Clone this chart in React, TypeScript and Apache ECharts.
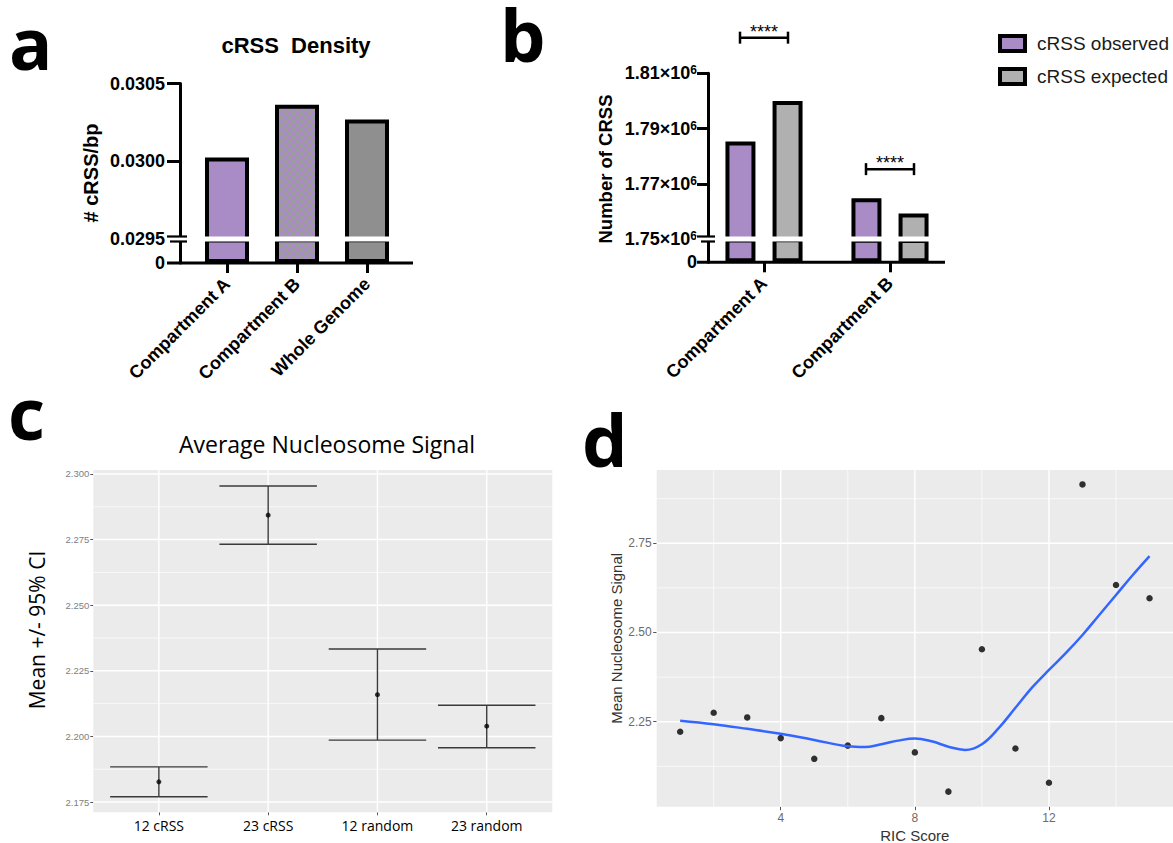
import React, { useEffect, useRef } from 'react';
import * as echarts from 'echarts';

// ---------- Panel a : cRSS density ----------
const densityCategories = ['Compartment A', 'Compartment B', 'Whole Genome'];
const densityValues = [0.030024, 0.030364, 0.030269];

// ---------- Panel b : number of cRSS ----------
const countCategories = ['Compartment A', 'Compartment B'];
const observedCounts = [1785300, 1764800];
const expectedCounts = [1800000, 1759200];
const bracketLevels = [1822900, 1775300];
const significance = ['****', '****'];

// ---------- Panel c : average nucleosome signal ----------
const nucCategories = ['12 cRSS', '23 cRSS', '12 random', '23 random'];
const nucMeans = [2.1827, 2.2843, 2.2159, 2.2039];
const nucLower = [2.177, 2.2732, 2.1986, 2.1957];
const nucUpper = [2.1884, 2.2954, 2.2333, 2.2119];
const nucTickValues = [2.175, 2.2, 2.225, 2.25, 2.275, 2.3];
const nucMinorValues = [2.1875, 2.2125, 2.2375, 2.2625, 2.2875];
const nucPositions = [1, 2, 3, 4];

// ---------- Panel d : RIC score vs signal ----------
const ricScores = [1, 2, 3, 4, 5, 6, 7, 8, 9, 10, 11, 12, 13, 14, 15];
const ricSignal = [2.222, 2.275, 2.262, 2.204, 2.146, 2.183, 2.26, 2.164, 2.054, 2.453, 2.175, 2.079, 2.915, 2.633, 2.596];
const loessX = [1, 2, 3, 4, 5, 6, 6.5, 7, 7.5, 8, 8.5, 9, 9.5, 10, 10.5, 11, 11.5, 12, 12.5, 13, 13.5, 14, 14.5, 15];
const loessY = [2.253, 2.243, 2.23, 2.216, 2.199, 2.181, 2.179, 2.187, 2.197, 2.203, 2.195, 2.18, 2.171, 2.187, 2.232, 2.289, 2.346, 2.395, 2.442, 2.493, 2.549, 2.605, 2.661, 2.714];
const ricTickValues = [4, 8, 12];
const ricMinorValues = [2, 6, 10, 14];
const signalTickValues = [2.25, 2.5, 2.75];
const signalMinorValues = [2.125, 2.375, 2.625, 2.875];

const FONT_A = '"Liberation Sans", Arial, sans-serif';
const FONT_O = '"Open Sans", sans-serif';
const PURPLE = '#A98BC6';
const GRAY_A = '#8F8F8F';
const GRAY_B = '#B0B0B0';

function gridLines(xIdx: number, xr: number[], yr: number[], xMajor: number[], xMinor: number[], yMajor: number[], yMinor: number[]) {
  return {
    type: 'custom',
    xAxisIndex: xIdx,
    yAxisIndex: xIdx,
    silent: true,
    clip: false,
    z: 1,
    data: [[xr[0], yr[0]]],
    renderItem: (params: any, api: any) => {
      const children: any[] = [];
      const add = (a: number[], b: number[], w: number) =>
        children.push({ type: 'line', shape: { x1: a[0], y1: a[1], x2: b[0], y2: b[1] }, style: { stroke: '#FFFFFF', lineWidth: w } });
      yMinor.forEach((v) => add(api.coord([xr[0], v]), api.coord([xr[1], v]), 0.7));
      xMinor.forEach((v) => add(api.coord([v, yr[0]]), api.coord([v, yr[1]]), 0.7));
      yMajor.forEach((v) => add(api.coord([xr[0], v]), api.coord([xr[1], v]), 1.4));
      xMajor.forEach((v) => add(api.coord([v, yr[0]]), api.coord([v, yr[1]]), 1.4));
      return { type: 'group', children };
    },
  };
}

export default function App() {
  const ref = useRef<HTMLDivElement>(null);

  useEffect(() => {
    const el = ref.current as HTMLDivElement;
    const chart = echarts.init(el, null, { renderer: 'svg' });

    const cv = document.createElement('canvas');
    cv.width = 8;
    cv.height = 8;
    const ctx = cv.getContext('2d') as CanvasRenderingContext2D;
    ctx.fillStyle = '#9C9C9C';
    ctx.fillRect(0, 0, 8, 8);
    ctx.fillStyle = PURPLE;
    ctx.fillRect(0, 0, 4, 4);
    ctx.fillRect(4, 4, 4, 4);
    const checker: any = { image: cv, repeat: 'repeat', imageWidth: 8, imageHeight: 8 };
    const densityColors = [PURPLE, checker, GRAY_A];

    const boldLabel = { fontFamily: FONT_A, fontWeight: 'bold', fontSize: 18, color: '#000' };
    const blackLine = { color: '#000', width: 3 };

    const nucXR = [0.4, 4.6];
    const nucYR = [2.1711, 2.3015];
    const ricXR = [0.3, 15.7];
    const ricYR = [2.0118, 2.9554];

    const letter = (t: string, x: number, y: number) => ({
      type: 'text', x, y, z: 100,
      style: { text: t, fontFamily: FONT_O, fontWeight: 'bold', fontSize: 72, lineHeight: 56, fill: '#000', verticalAlign: 'middle' },
    });

    const option: any = {
      animation: false,
      backgroundColor: '#FFFFFF',
      grid: [
        { left: 192, top: 83.5, width: 210, height: 155.5, outerBoundsMode: 'none' },
        { left: 192, top: 239, width: 210, height: 24, outerBoundsMode: 'none' },
        { left: 701, top: 73.3, width: 252, height: 165.7, outerBoundsMode: 'none' },
        { left: 701, top: 239, width: 252, height: 23.3, outerBoundsMode: 'none' },
        { left: 93.3, top: 470, width: 459, height: 342.3, show: true, backgroundColor: '#EBEBEB', borderWidth: 0, outerBoundsMode: 'none' },
        { left: 656.7, top: 470, width: 516.3, height: 336.7, show: true, backgroundColor: '#EBEBEB', borderWidth: 0, outerBoundsMode: 'none' },
      ],
      xAxis: [
        { gridIndex: 0, type: 'category', data: densityCategories, show: false },
        {
          gridIndex: 1, type: 'category', data: densityCategories,
          axisLine: { show: false },
          axisTick: { show: true, alignWithLabel: true, length: 10, lineStyle: blackLine },
          axisLabel: { ...boldLabel, rotate: 45, margin: 18, interval: 0 },
          splitLine: { show: false },
        },
        { gridIndex: 2, type: 'category', data: countCategories, show: false },
        {
          gridIndex: 3, type: 'category', data: countCategories,
          axisLine: { show: false },
          axisTick: { show: true, alignWithLabel: true, length: 10, lineStyle: blackLine },
          axisLabel: { ...boldLabel, rotate: 45, margin: 18, interval: 0 },
          splitLine: { show: false },
        },
        {
          gridIndex: 4, type: 'value', min: nucXR[0], max: nucXR[1],
          axisLine: { show: false },
          axisTick: { show: true, customValues: nucPositions, length: 3, lineStyle: { color: '#555', width: 1 } },
          axisLabel: { customValues: nucPositions, formatter: (v: number) => nucCategories[Math.round(v) - 1], fontFamily: FONT_O, fontSize: 14, color: '#000', margin: 6 },
          splitLine: { show: false },
        },
        {
          gridIndex: 5, type: 'value', min: ricXR[0], max: ricXR[1],
          axisLine: { show: false },
          axisTick: { show: true, customValues: ricTickValues, length: 3.5, lineStyle: { color: '#555', width: 1 } },
          axisLabel: { customValues: ricTickValues, fontFamily: FONT_A, fontSize: 12, color: '#6B6B6B', margin: 5 },
          splitLine: { show: false },
          name: 'RIC Score', nameLocation: 'middle', nameGap: 21,
          nameTextStyle: { fontFamily: FONT_A, fontSize: 15, color: '#333' },
        },
      ],
      yAxis: [
        {
          gridIndex: 0, type: 'value', min: 0.0295, max: 0.0305, interval: 0.0005, offset: 12,
          axisLine: { show: true, lineStyle: blackLine },
          axisTick: { show: true, length: 13, lineStyle: blackLine },
          axisLabel: { ...boldLabel, margin: 15, formatter: (v: number) => v.toFixed(4) },
          splitLine: { show: false },
        },
        {
          gridIndex: 1, type: 'value', min: 0, max: 0.0295, interval: 0.0295, offset: 12,
          axisLine: { show: true, lineStyle: blackLine },
          axisTick: { show: false },
          axisLabel: { ...boldLabel, margin: 15, formatter: (v: number) => (v === 0 ? '0' : '') },
          splitLine: { show: false },
        },
        {
          gridIndex: 2, type: 'value', min: 1750000, max: 1810000, interval: 20000, offset: -7,
          axisLine: { show: true, lineStyle: blackLine },
          axisTick: { show: true, length: 11, lineStyle: blackLine },
          axisLabel: {
            margin: 11,
            formatter: (v: number) => `{n|${(v / 1e6).toFixed(2)}×10}{s|6}`,
            rich: {
              n: { fontFamily: FONT_A, fontWeight: 'bold', fontSize: 18, color: '#000' },
              s: { fontFamily: FONT_A, fontWeight: 'bold', fontSize: 12, color: '#000', verticalAlign: 'top' },
            },
          },
          splitLine: { show: false },
        },
        {
          gridIndex: 3, type: 'value', min: 0, max: 1750000, interval: 1750000, offset: -7,
          axisLine: { show: true, lineStyle: blackLine },
          axisTick: { show: false },
          axisLabel: { ...boldLabel, margin: 11, formatter: (v: number) => (v === 0 ? '0' : '') },
          splitLine: { show: false },
        },
        {
          gridIndex: 4, type: 'value', min: nucYR[0], max: nucYR[1],
          axisLine: { show: false },
          axisTick: { show: true, customValues: nucTickValues, length: 3, lineStyle: { color: '#555', width: 1 } },
          axisLabel: { customValues: nucTickValues, formatter: (v: number) => v.toFixed(3), fontFamily: FONT_A, fontSize: 9.5, color: '#808080', margin: 4 },
          splitLine: { show: false },
        },
        {
          gridIndex: 5, type: 'value', min: ricYR[0], max: ricYR[1],
          axisLine: { show: false },
          axisTick: { show: true, customValues: signalTickValues, length: 3.5, lineStyle: { color: '#555', width: 1 } },
          axisLabel: { customValues: signalTickValues, formatter: (v: number) => v.toFixed(2), fontFamily: FONT_A, fontSize: 12, color: '#6B6B6B', margin: 5 },
          splitLine: { show: false },
          name: 'Mean Nucleosome Signal', nameLocation: 'middle', nameGap: 33,
          nameTextStyle: { fontFamily: FONT_A, fontSize: 15, color: '#333' },
        },
      ],
      legend: {
        orient: 'vertical', left: 998, top: 34, padding: 0,
        itemWidth: 25, itemHeight: 15, itemGap: 14, icon: 'rect', selectedMode: false,
        itemStyle: { borderColor: '#000', borderWidth: 4 },
        textStyle: { fontFamily: FONT_A, fontSize: 19, color: '#1A1A1A', padding: [0, 0, 0, 7] },
        data: ['cRSS observed', 'cRSS expected'],
      },
      series: [
        // panel a (upper and lower part of the broken axis)
        ...[0, 1].map((g) => ({
          type: 'bar', xAxisIndex: g, yAxisIndex: g, barWidth: 44,
          itemStyle: { borderColor: '#000', borderWidth: 4 },
          data: densityValues.map((v, i) => ({ value: v, itemStyle: { color: densityColors[i] } })),
        })),
        // panel b
        ...[2, 3].flatMap((g) => [
          {
            type: 'bar', name: 'cRSS observed', xAxisIndex: g, yAxisIndex: g, barWidth: 30, barGap: '57%',
            itemStyle: { color: PURPLE, borderColor: '#000', borderWidth: 4 }, data: observedCounts,
          },
          {
            type: 'bar', name: 'cRSS expected', xAxisIndex: g, yAxisIndex: g, barWidth: 30, barGap: '57%',
            itemStyle: { color: GRAY_B, borderColor: '#000', borderWidth: 4 }, data: expectedCounts,
          },
        ]),
        {
          type: 'custom', xAxisIndex: 2, yAxisIndex: 2, clip: false, silent: true, z: 5,
          data: bracketLevels.map((v, i) => [i, v]),
          renderItem: (params: any, api: any) => {
            const p = api.coord([api.value(0), api.value(1)]);
            const half = 24;
            const cap = 6;
            const st = { stroke: '#000', lineWidth: 2.5 };
            return {
              type: 'group',
              children: [
                { type: 'line', shape: { x1: p[0] - half, y1: p[1], x2: p[0] + half, y2: p[1] }, style: st },
                { type: 'line', shape: { x1: p[0] - half, y1: p[1] - cap, x2: p[0] - half, y2: p[1] + cap }, style: st },
                { type: 'line', shape: { x1: p[0] + half, y1: p[1] - cap, x2: p[0] + half, y2: p[1] + cap }, style: st },
                {
                  type: 'text', x: p[0], y: p[1] + 3,
                  style: { text: significance[params.dataIndex], align: 'center', verticalAlign: 'bottom', fontFamily: FONT_A, fontSize: 18, fill: '#000' },
                },
              ],
            };
          },
        },
        // panel c
        gridLines(4, nucXR, nucYR, nucPositions, [], nucTickValues, nucMinorValues),
        {
          type: 'custom', xAxisIndex: 4, yAxisIndex: 4, silent: true, z: 3,
          data: nucPositions.map((x, i) => [x, nucLower[i], nucUpper[i]]),
          renderItem: (params: any, api: any) => {
            const x = api.value(0);
            const top = api.coord([x, api.value(2)]);
            const bot = api.coord([x, api.value(1)]);
            const hw = api.size([0.446, 0])[0];
            const st = { stroke: '#3A3A3A', lineWidth: 1.4 };
            return {
              type: 'group',
              children: [
                { type: 'line', shape: { x1: top[0], y1: top[1], x2: bot[0], y2: bot[1] }, style: st },
                { type: 'line', shape: { x1: top[0] - hw, y1: top[1], x2: top[0] + hw, y2: top[1] }, style: st },
                { type: 'line', shape: { x1: bot[0] - hw, y1: bot[1], x2: bot[0] + hw, y2: bot[1] }, style: st },
              ],
            };
          },
        },
        {
          type: 'scatter', xAxisIndex: 4, yAxisIndex: 4, symbolSize: 5, z: 4,
          itemStyle: { color: '#000' },
          data: nucPositions.map((x, i) => [x, nucMeans[i]]),
        },
        // panel d
        gridLines(5, ricXR, ricYR, ricTickValues, ricMinorValues, signalTickValues, signalMinorValues),
        {
          type: 'scatter', xAxisIndex: 5, yAxisIndex: 5, symbolSize: 6.5, z: 3,
          itemStyle: { color: '#000' },
          data: ricScores.map((x, i) => [x, ricSignal[i]]),
        },
        {
          type: 'line', xAxisIndex: 5, yAxisIndex: 5, smooth: 0.4, showSymbol: false, z: 4,
          lineStyle: { color: '#3366FF', width: 2.5 },
          data: loessX.map((x, i) => [x, loessY[i]]),
        },
      ],
      graphic: [
        // panel letters
        letter('a', 9, 42),
        letter('b', 500, 34),
        letter('c', 8, 412),
        letter('d', 582, 439),
        // titles
        { type: 'text', x: 296, y: 45.5, z: 100, style: { text: 'cRSS  Density', fontFamily: FONT_A, fontWeight: 'bold', fontSize: 22, fill: '#000', align: 'center', verticalAlign: 'middle' } },
        { type: 'text', x: 327, y: 444, z: 100, style: { text: 'Average Nucleosome Signal', fontFamily: FONT_O, fontSize: 23, fill: '#000', align: 'center', verticalAlign: 'middle' } },
        // rotated axis names
        { type: 'text', x: 91, y: 173, rotation: Math.PI / 2, z: 100, style: { text: '# cRSS/bp', fontFamily: FONT_A, fontWeight: 'bold', fontSize: 20, fill: '#000', align: 'center', verticalAlign: 'middle' } },
        { type: 'text', x: 605, y: 169, rotation: Math.PI / 2, z: 100, style: { text: 'Number of CRSS', fontFamily: FONT_A, fontWeight: 'bold', fontSize: 18.5, fill: '#000', align: 'center', verticalAlign: 'middle' } },
        { type: 'text', x: 37, y: 630, rotation: Math.PI / 2, z: 100, style: { text: 'Mean +/- 95% CI', fontFamily: FONT_O, fontSize: 21, fill: '#000', align: 'center', verticalAlign: 'middle' } },
        // x axis base lines
        { type: 'line', z: 100, shape: { x1: 167, y1: 263, x2: 413, y2: 263 }, style: { stroke: '#000', lineWidth: 3 } },
        { type: 'line', z: 100, shape: { x1: 697, y1: 262.3, x2: 945, y2: 262.3 }, style: { stroke: '#000', lineWidth: 3 } },
        // axis breaks
        { type: 'rect', z: 100, shape: { x: 166, y: 236.6, width: 248, height: 4.8 }, style: { fill: '#FFFFFF' } },
        { type: 'line', z: 101, shape: { x1: 167, y1: 236.5, x2: 187, y2: 236.5 }, style: { stroke: '#000', lineWidth: 2.2 } },
        { type: 'line', z: 101, shape: { x1: 170, y1: 241.5, x2: 187, y2: 241.5 }, style: { stroke: '#000', lineWidth: 2.2 } },
        { type: 'rect', z: 100, shape: { x: 696, y: 236.6, width: 250, height: 4.8 }, style: { fill: '#FFFFFF' } },
        { type: 'line', z: 101, shape: { x1: 697, y1: 236.5, x2: 715, y2: 236.5 }, style: { stroke: '#000', lineWidth: 2.2 } },
        { type: 'line', z: 101, shape: { x1: 701, y1: 241.5, x2: 715, y2: 241.5 }, style: { stroke: '#000', lineWidth: 2.2 } },
      ],
    };

    chart.setOption(option);
    return () => chart.dispose();
  }, []);

  return (
    <div
      ref={ref}
      style={{ position: 'fixed', left: 0, top: 0, width: 1173, height: 843, background: '#FFFFFF' }}
    />
  );
}
